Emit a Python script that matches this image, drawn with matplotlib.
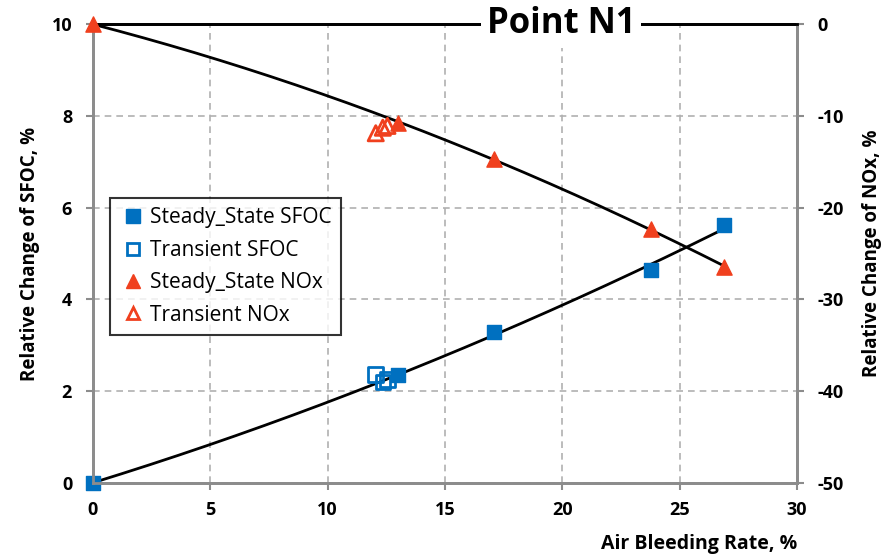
import numpy as np
import matplotlib
matplotlib.use("Agg")
import matplotlib.pyplot as plt
from matplotlib.lines import Line2D

plt.rcParams["font.family"] = ["Open Sans", "DejaVu Sans"]
plt.rcParams["axes.unicode_minus"] = False

# air bleeding rate, %
steady_x = [0.0, 13.0, 17.1, 23.8, 26.9]
steady_sfoc = [0.0, 2.36, 3.28, 4.64, 5.62]
steady_nox = [0.0, -10.8, -14.7, -22.3, -26.5]

transient_x = [12.05, 12.35, 12.55]
transient_sfoc = [2.36, 2.2, 2.25]
transient_nox = [-11.9, -11.3, -11.1]

blue = "#0070c0"
red = "#f0401e"
grey = "#8c8c8c"

fig = plt.figure(figsize=(8.88, 5.58), dpi=100)
ax = fig.add_axes([0.1047, 0.1344, 0.7928, 0.8226])
ax2 = ax.twinx()

# quadratic trend lines through the steady-state points
xs = np.linspace(0, max(steady_x), 200)
p_sfoc = np.polyfit(steady_x, steady_sfoc, 2)
p_nox = np.polyfit(steady_x, steady_nox, 2)
ax.plot(xs, np.polyval(p_sfoc, xs), color="black", lw=2, zorder=3)
ax2.plot(xs, np.polyval(p_nox, xs), color="black", lw=2, zorder=3)

ax.scatter(steady_x, steady_sfoc, marker="s", s=110, color=blue, zorder=4, clip_on=False)
ax.scatter(transient_x, transient_sfoc, marker="s", s=110, facecolor="none",
           edgecolor=blue, linewidth=2, zorder=4)
ax2.scatter(steady_x, steady_nox, marker="^", s=120, color=red, zorder=4, clip_on=False)
ax2.scatter(transient_x, transient_nox, marker="^", s=120, facecolor="none",
            edgecolor=red, linewidth=2, zorder=4)

ax.set_xlim(0, 30)
ax.set_ylim(0, 10)
ax2.set_ylim(-50, 0)
ax.set_xticks(range(0, 31, 5))
ax.set_yticks(range(0, 11, 2))
ax2.set_yticks(range(-50, 1, 10))

ax.grid(True, color="#b0b0b0", linestyle=(0, (4, 3)), linewidth=1.2)
ax.set_axisbelow(True)

for a in (ax, ax2):
    for side in ("left", "bottom", "right"):
        a.spines[side].set_color(grey)
        a.spines[side].set_linewidth(2)
    a.spines["top"].set_color("black")
    a.spines["top"].set_linewidth(2)
    a.tick_params(colors=grey, length=5, width=1.5, labelcolor="black", labelsize=13)
    for lbl in a.get_xticklabels() + a.get_yticklabels():
        lbl.set_fontweight("bold")
ax.tick_params(axis="x", pad=8)
ax.tick_params(axis="y", pad=10)
ax2.tick_params(axis="y", pad=10)

ax.set_ylabel("Relative Change of SFOC, %", fontsize=13.5, fontweight="bold", labelpad=8)
ax2.set_ylabel("Relative Change of NOx, %", fontsize=13.5, fontweight="bold", labelpad=13)
ax.set_xlabel("Air Bleeding Rate, %", fontsize=14, fontweight="bold", loc="right", labelpad=11)

ax2.text(0.665, 1.0, "Point N1", transform=ax2.transAxes, ha="center", va="center",
         fontsize=25, fontweight="bold", zorder=10,
         bbox=dict(facecolor="white", edgecolor="none", pad=4))

handles = [
    Line2D([], [], marker="s", ls="none", color=blue, markersize=10),
    Line2D([], [], marker="s", ls="none", markerfacecolor="none", markeredgecolor=blue,
           markeredgewidth=2, markersize=9),
    Line2D([], [], marker="^", ls="none", color=red, markersize=10),
    Line2D([], [], marker="^", ls="none", markerfacecolor="none", markeredgecolor=red,
           markeredgewidth=2, markersize=9),
]
labels = ["Steady_State SFOC", "Transient SFOC", "Steady_State NOx", "Transient NOx"]
leg = ax2.legend(handles, labels, loc="upper left", bbox_to_anchor=(0.024, 0.621),
                 fontsize=15, frameon=True, fancybox=False, edgecolor="black",
                 handlelength=1.3, handletextpad=0.2, labelspacing=0.55,
                 borderpad=0.45, borderaxespad=0)
leg.get_frame().set_linewidth(1.5)

fig.savefig("out.png", dpi=100)
